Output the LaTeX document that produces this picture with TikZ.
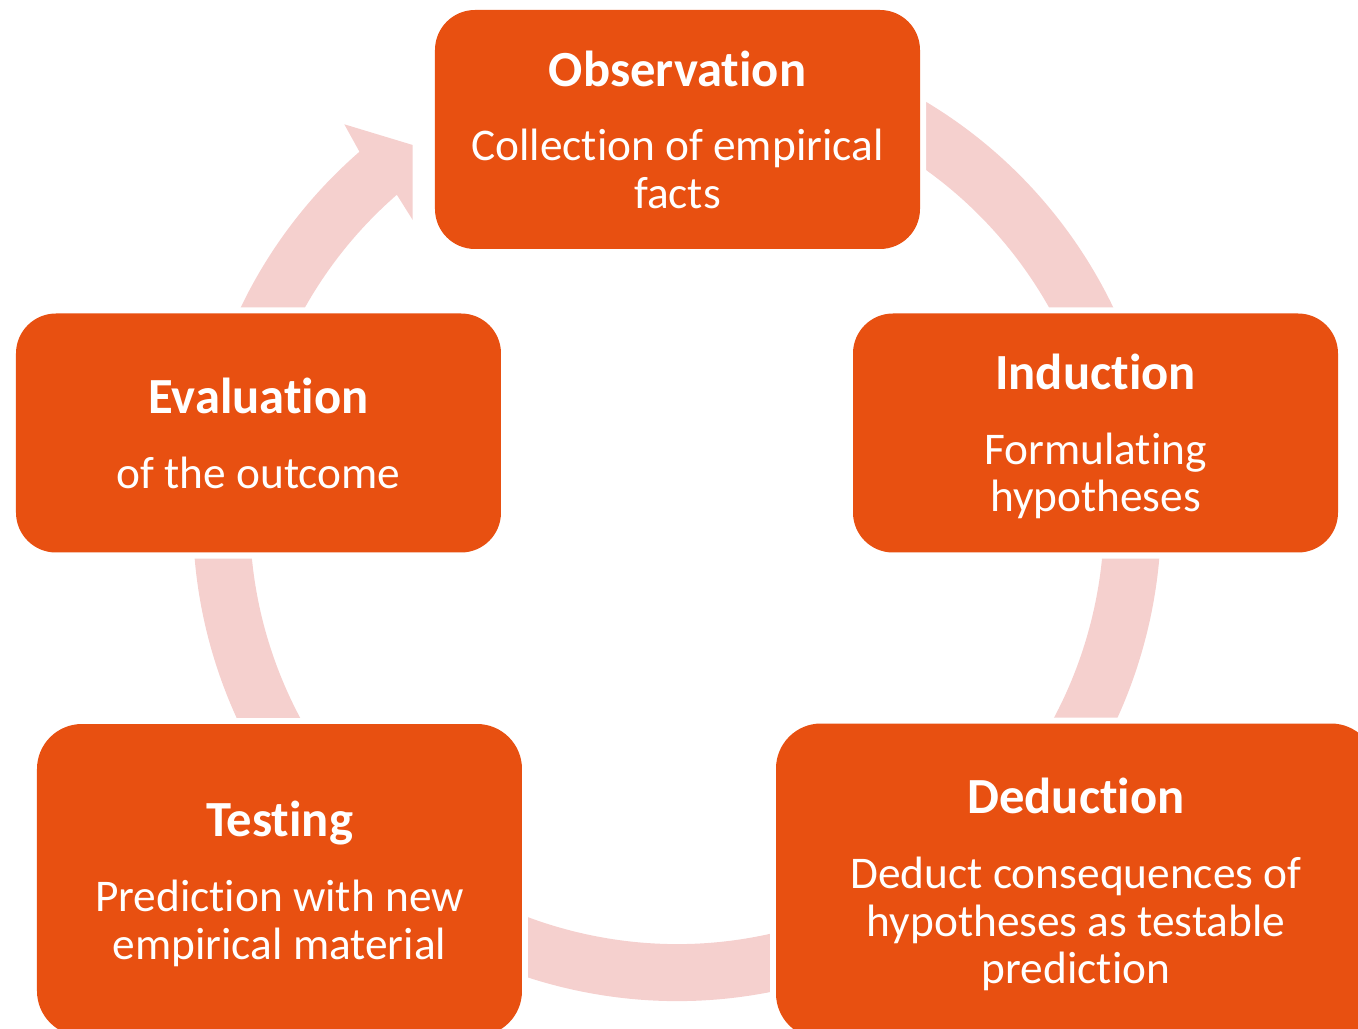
\documentclass[tikz,border=0pt]{standalone}
\usepackage{fontspec}
\setmainfont{Carlito}[Ligatures=NoCommon]
\usepackage{tikz}
\usetikzlibrary{
    arrows.meta,
    shapes.misc,
    positioning,
    calc
}
\usepackage{xcolor}
\definecolor{stageorange}{RGB}{232,80,17}
\definecolor{ringpink}{RGB}{245,208,206}
\newcommand{\stagetitlefont}{\fontsize{28.8}{28.8}\selectfont\bfseries}
\newcommand{\stagebodyfont}{\fontsize{25.8}{27.2}\selectfont}
\newcommand{\stagetitle}[1]{{\stagetitlefont #1}\\[15.3pt]}
\tikzstyle{stage} = [
    rectangle,
    rounded corners=0.8cm,
    fill=stageorange,
    text=white,
    minimum width=9.7cm,
    minimum height=4.78cm,
    align=center,
    text depth=0pt,
    font=\stagebodyfont,
    preaction={draw=white, line width=0.24cm}
]
\tikzstyle{ring} = [
    line width=1.14cm,
    draw=ringpink
]
\tikzstyle{ringhead} = [
    fill=ringpink
]

\begin{document}
\begin{tikzpicture}
        \useasboundingbox (-13.54,-10.24) rectangle (13.62,10.34);

        % Cycle ring behind the stages
        \draw[ring] (75:9.11) arc[start angle=75, end angle=-229.5, radius=9.11];
        \fill[ringhead] (131:9.68) -- (-6.654,7.854) -- (-5.286,7.44)
            -- (-5.286,5.94) -- (131:8.54) -- cycle;

        % Stages
        \node[stage] (observation) at (0.01,7.75)
            {\stagetitle{Observation}Collection of empirical\\facts};
        \node[stage] (induction) at (8.37,1.68)
            {\stagetitle{Induction}Formulating\\hypotheses};
        \node[stage] (evaluation) at (-8.37,1.68)
            {\stagetitle{Evaluation}of the outcome};
        \node[stage, minimum height=6.24cm, rounded corners=0.9cm] (testing) at (-7.95,-7.26)
            {\stagetitle{Testing}Prediction with new\\empirical material};
        \node[stage, minimum width=12cm, minimum height=6.3cm, rounded corners=0.9cm] (deduction) at (7.98,-7.28)
            {\stagetitle{Deduction}Deduct consequences of\\hypotheses as testable\\prediction};
    \end{tikzpicture}
\end{document}
